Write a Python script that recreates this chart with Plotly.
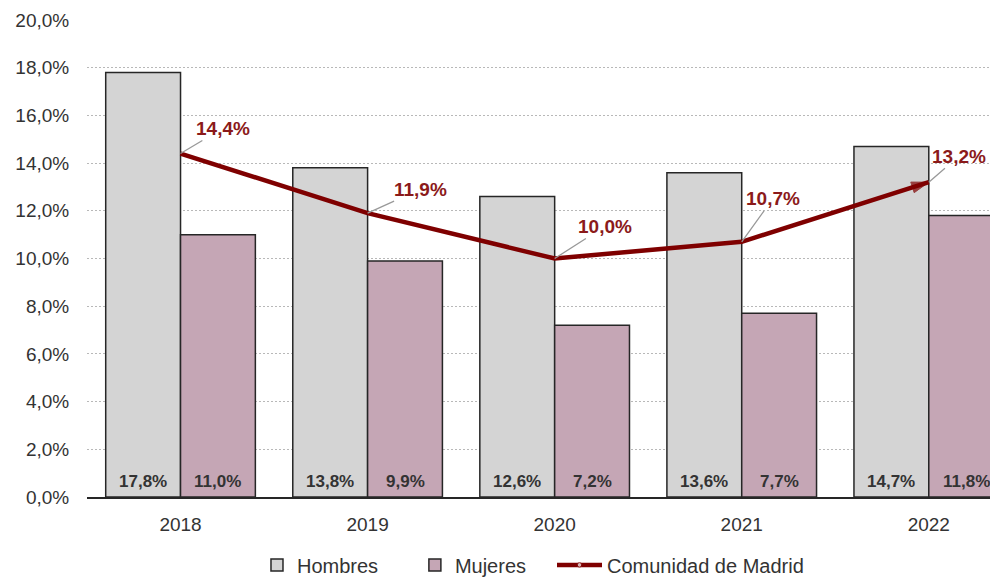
import plotly.graph_objects as go

years = ["2018", "2019", "2020", "2021", "2022"]
hombres = [17.8, 13.8, 12.6, 13.6, 14.7]
mujeres = [11.0, 9.9, 7.2, 7.7, 11.8]
madrid = [14.4, 11.9, 10.0, 10.7, 13.2]
y_ticks = [0, 2, 4, 6, 8, 10, 12, 14, 16, 18, 20]

def fmt(v):
    return f"{v:.1f}".replace(".", ",") + "%"

FONT = "Liberation Sans, Arial, sans-serif"
RED = "#7f0000"
BARGAP = 0.2
half = (1 - BARGAP) / 4  # center offset of each bar within its group

fig = go.Figure()
fig.add_trace(go.Bar(
    x=years, y=hombres, name="Hombres", legend="legend",
    marker=dict(color="#d4d4d4", line=dict(color="#262626", width=1.5)),
))
fig.add_trace(go.Bar(
    x=years, y=mujeres, name="Mujeres", legend="legend2",
    marker=dict(color="#c5a6b5", line=dict(color="#262626", width=1.5)),
))
fig.add_trace(go.Scatter(
    x=years, y=madrid, name="Comunidad de Madrid", mode="lines+markers", legend="legend3",
    line=dict(color=RED, width=4.5),
    marker=dict(symbol=["circle", "circle", "circle", "circle", "arrow"],
                size=[5, 0, 0, 0, 18], angleref="previous",
                color=["white", RED, RED, RED, RED],
                line=dict(color=RED, width=1)),
))

# value labels at the bottom of the bars
for i, (h, m) in enumerate(zip(hombres, mujeres)):
    for xo, v in ((-half, h), (half, m)):
        fig.add_annotation(x=i + xo, y=0, xref="x", yref="y", text=fmt(v),
                           showarrow=False, yanchor="middle", yshift=16,
                           font=dict(family=FONT, size=17, color="#333333", weight="bold"))

offsets = [(42, -25), (53, -24), (50, -32), (31, -43), (30, -26)]
for i, (v, (ax, ay)) in enumerate(zip(madrid, offsets)):
    fig.add_annotation(
        x=i, y=v, xref="x", yref="y", text=fmt(v),
        showarrow=True, arrowhead=0, arrowwidth=1.3, arrowcolor="#999999",
        ax=ax, ay=ay, font=dict(family=FONT, size=19, color="#8b1a1a", weight="bold"),
    )

leg_common = dict(orientation="h", xref="container", xanchor="left",
                  yref="container", y=0.023, yanchor="middle",
                  font=dict(family=FONT, size=20, color="#333333"),
                  bgcolor="rgba(0,0,0,0)")

fig.update_layout(
    width=990, height=570,
    margin=dict(l=79, r=0, t=12, b=81),
    paper_bgcolor="white", plot_bgcolor="white",
    barmode="group", bargap=BARGAP, bargroupgap=0,
    separators=",.",
    font=dict(family=FONT, size=19, color="#333333"),
    showlegend=True,
    legend=dict(x=0.2515, itemwidth=30, **leg_common),
    legend2=dict(x=0.411, itemwidth=30, **leg_common),
    legend3=dict(x=0.5495, itemwidth=45, **leg_common),
    xaxis=dict(range=[-0.5, 4.37], showgrid=False, showline=True, linecolor="#262626",
               linewidth=1.5, ticks="outside", ticklen=9, tickcolor="rgba(0,0,0,0)",
               tickfont=dict(size=19, color="#333333")),
    yaxis=dict(range=[0, 20], tickvals=y_ticks, ticktext=[fmt(v) for v in y_ticks],
               showgrid=True, gridcolor="#b8b8b8", griddash="2px,2px", gridwidth=1,
               zeroline=False, showline=False, ticks="outside", ticklen=13,
               tickcolor="rgba(0,0,0,0)", tickfont=dict(size=19, color="#333333")),
)

fig.write_html("out.html")
